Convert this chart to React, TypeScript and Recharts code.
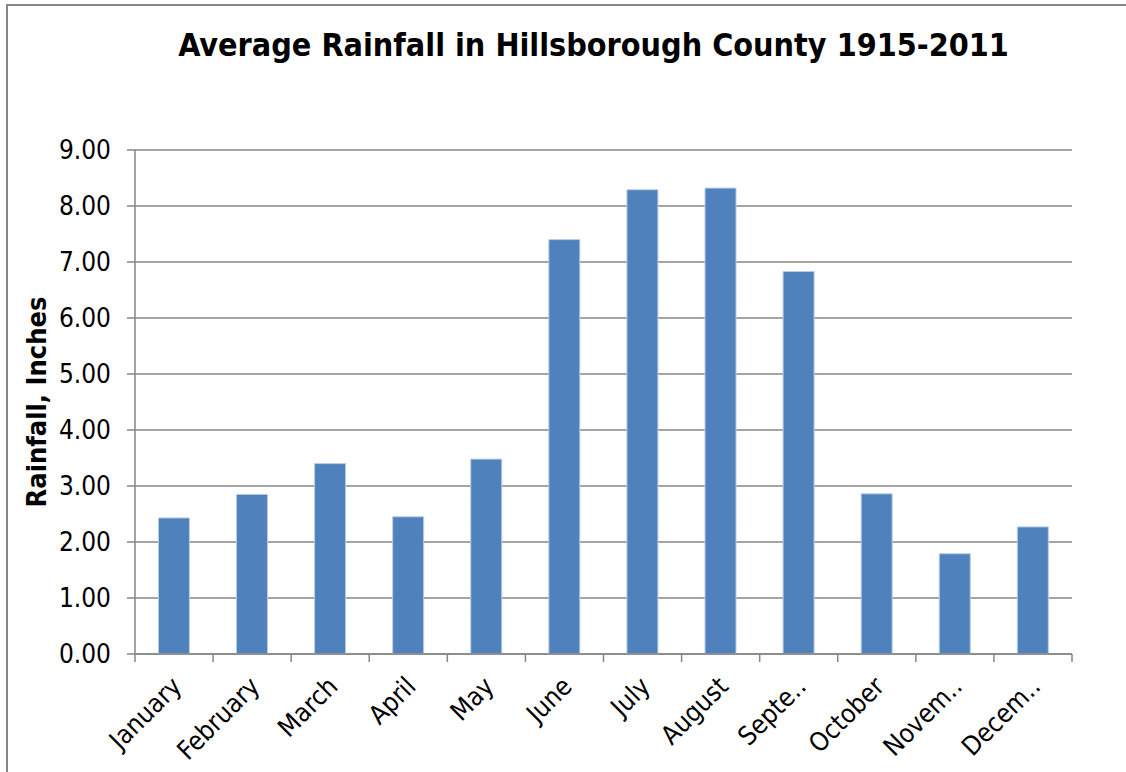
import { BarChart, Bar, XAxis, YAxis, CartesianGrid, Label } from "recharts";

const months = [
  "January", "February", "March", "April", "May", "June",
  "July", "August", "Septe‥", "October", "Novem‥", "Decem‥",
];
const rainfall = [2.43, 2.85, 3.4, 2.45, 3.48, 7.4, 8.29, 8.32, 6.83, 2.86, 1.79, 2.27];
const yTicks = [0, 1, 2, 3, 4, 5, 6, 7, 8, 9];

const data = months.map((m, i) => ({ month: m, rain: rainfall[i] }));

const FONT = "'DejaVu Sans Condensed', 'DejaVu Sans', sans-serif";
const GRID = "#868686";

// Excel puts the x tick marks between categories, so draw them at the band edges
function MonthTick(props: any) {
  const { x, y, payload, index, visibleTicksCount } = props;
  const half = payload.offset ?? 0;
  const last = index === visibleTicksCount - 1;
  return (
    <g>
      <line x1={x - half} x2={x - half} y1={y - 8} y2={y} stroke={GRID} strokeWidth={1.5} />
      {last && <line x1={x + half} x2={x + half} y1={y - 8} y2={y} stroke={GRID} strokeWidth={1.5} />}
      <text
        x={x + 9}
        y={y + 26}
        textAnchor="end"
        transform={`rotate(-45 ${x + 9} ${y + 26})`}
        fontFamily={FONT}
        fontSize={26}
        fill="#000"
      >
        {payload.value}
      </text>
    </g>
  );
}

export default function App() {
  return (
    <div style={{ position: "fixed", left: 0, top: 0, width: 1126, height: 772, overflow: "hidden", background: "#fff" }}>
      <div
        style={{
          position: "absolute",
          left: 6,
          top: 4,
          width: 1200,
          height: 900,
          border: "2px solid #878787",
        }}
      />
      <div
        style={{
          position: "absolute",
          left: 0,
          top: 26,
          width: 1187,
          textAlign: "center",
          fontFamily: FONT,
          fontWeight: "bold",
          fontSize: 32,
          color: "#000",
        }}
      >
        Average Rainfall in Hillsborough County 1915-2011
      </div>
      <div style={{ position: "absolute", left: 0, top: 0 }}>
        <BarChart
          width={1126}
          height={772}
          data={data}
          margin={{ top: 150, right: 54, left: 0, bottom: 0 }}
          barCategoryGap="30%"
        >
          <CartesianGrid vertical={false} stroke={GRID} strokeWidth={1.5} />
          <XAxis
            dataKey="month"
            interval={0}
            tick={<MonthTick />}
            tickLine={false}
            tickSize={8}
            tickMargin={0}
            axisLine={{ stroke: GRID, strokeWidth: 1.5 }}
            height={118}
          />
          <YAxis
            width={135}
            domain={[0, 9]}
            ticks={yTicks}
            tickFormatter={(v: number) => v.toFixed(2)}
            tick={{ fontFamily: FONT, fontSize: 26, fill: "#000" }}
            tickSize={8}
            tickMargin={16}
            axisLine={{ stroke: GRID, strokeWidth: 1.5 }}
            tickLine={{ stroke: GRID, strokeWidth: 1.5 }}
          >
            <Label
              value="Rainfall, Inches"
              angle={-90}
              position="center"
              dx={-31}
              style={{ fontFamily: FONT, fontWeight: "bold", fontSize: 27, fill: "#000" }}
            />
          </YAxis>
          <Bar
            dataKey="rain"
            fill="#4F81BD"
            stroke="#B9CDE5"
            strokeWidth={1}
            isAnimationActive={false}
          />
        </BarChart>
      </div>
    </div>
  );
}
